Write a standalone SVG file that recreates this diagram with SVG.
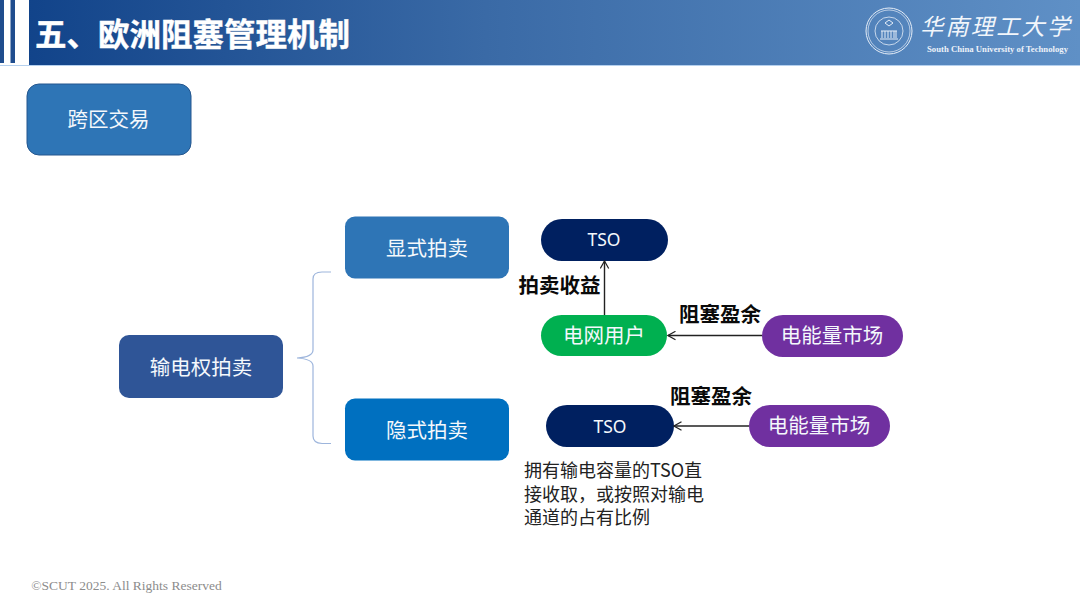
<svg xmlns="http://www.w3.org/2000/svg" width="1080" height="608" viewBox="0 0 1080 608">
<style>
text{font-family:"Noto Sans CJK SC","Noto Sans",sans-serif;text-anchor:middle}
.w{fill:#f4f8fc;font-size:20.500px}
.b{fill:#0a0a0a;font-size:20.500px;font-weight:700}
.t{fill:#222;font-size:18px;text-anchor:start}
.c{fill:none;stroke:#222;stroke-width:1.4}
.br{fill:none;stroke:#9db5dc;stroke-width:1.2}
.s{font-size:17.500px;fill:#f4f8fc;font-family:"Noto Sans",sans-serif}
</style>
<defs>
<linearGradient id="hd" x1="0" y1="0" x2="1" y2="0"><stop offset="0" stop-color="#0f4188"/><stop offset=".45" stop-color="#3a6aa6"/><stop offset="1" stop-color="#5f90c6"/></linearGradient>
<marker id="a" markerWidth="10" markerHeight="10" refX="8.500" refY="5" orient="auto" markerUnits="userSpaceOnUse"><path d="M1 .8 8.500 5 1 9.200" fill="none" stroke="#222" stroke-width="1.200"/></marker>
</defs>
<rect width="1080" height="608" fill="#fff"/>
<g id="header">
<rect width="1080" height="65" fill="url(#hd)"/>
<rect y="65" width="1080" height="1" fill="#b5d0ee"/>
<rect width="29" height="65" fill="#fff"/>
<rect width="4" height="63" fill="#1f4d8e"/>
<rect x="10.500" width="4.500" height="63" fill="#1f4d8e"/>
<text x="192.500" y="46" style="font-size:31.500px;font-weight:700;fill:#fff;stroke:#fff;stroke-width:.4">五、欧洲阻塞管理机制</text>
</g>
<g id="logo">
<circle cx="889" cy="31" r="23" fill="none" stroke="#e6eef8" stroke-width="1"/>
<circle cx="889" cy="31" r="21" fill="none" stroke="#e6eef8" stroke-width=".7"/>
<circle cx="889" cy="31" r="14" fill="none" stroke="#e6eef8" stroke-width=".8"/>
<path d="M880 39h18M882 38v-7M885 38v-7M888 38v-7M891 38v-7M894 38v-7M896 38v-7M881 31h16" stroke="#e6eef8" stroke-width="1" fill="none"/>
<path d="M885 23l4-3 4 3-4 3z" fill="none" stroke="#e6eef8" stroke-width="1"/>
<text x="920" y="35" style="font-size:23px;letter-spacing:2.400px;fill:#f2f6fb;font-style:italic;text-anchor:start">华南理工大学</text>
<text x="997.500" y="52" style="font-family:'Liberation Serif',serif;font-size:8.700px;font-weight:700;fill:#eef3fa">South China University of Technology</text>
</g>
<g id="kuaqu"><rect x="27" y="84" width="164" height="71" rx="12" fill="#2e75b6" stroke="#24568e" stroke-width="1"/><text class="w" x="108.500" y="126.500">跨区交易</text></g>
<g id="shudian"><rect x="119" y="335" width="164" height="63" rx="10" fill="#2f5597"/><text class="w" x="201" y="374.500">输电权拍卖</text></g>
<g id="xianshi"><rect x="345" y="216.500" width="164" height="62" rx="10" fill="#2e75b6"/><text class="w" x="427" y="255.500">显式拍卖</text></g>
<g id="yinshi"><rect x="345" y="398.500" width="164" height="62" rx="10" fill="#0070c0"/><text class="w" x="427" y="437.500">隐式拍卖</text></g>
<g id="tso1"><rect x="541" y="219" width="127" height="42" rx="21" fill="#002060"/><text class="s" x="604" y="246">TSO</text></g>
<g id="user"><rect x="541" y="315" width="126" height="41" rx="20.500" fill="#00b050"/><text class="w" x="604" y="343">电网用户</text></g>
<g id="market1"><rect x="762" y="315" width="141" height="42" rx="21" fill="#7030a0"/><text class="w" x="832" y="343">电能量市场</text></g>
<g id="tso2"><rect x="546" y="405" width="128" height="42" rx="21" fill="#002060"/><text class="s" x="610" y="433">TSO</text></g>
<g id="market2"><rect x="749" y="405" width="141" height="42" rx="21" fill="#7030a0"/><text class="w" x="819" y="433">电能量市场</text></g>
<g id="connectors">
<path class="br" d="M331 272H322Q313 272 313 279V350Q313 357 297 358Q313 359 313 366V436Q313 443 322 443.500H331"/>
<path class="c" d="M604.500 315V261" marker-end="url(#a)"/>
<path class="c" d="M762 335.500H668" marker-end="url(#a)"/>
<path class="c" d="M749 426H674" marker-end="url(#a)"/>
</g>
<g id="labels">
<text class="b" x="559.500" y="293">拍卖收益</text>
<text class="b" x="720" y="322">阻塞盈余</text>
<text class="b" x="711" y="404">阻塞盈余</text>
<text class="t" x="524" y="476.500">拥有输电容量的TSO直</text>
<text class="t" x="524" y="500.500">接收取，或按照对输电</text>
<text class="t" x="524" y="524">通道的占有比例</text>
<text x="126.500" y="590" style="font-family:'Liberation Serif',serif;font-size:13.500px;fill:#8c8c8c">©SCUT 2025. All Rights Reserved</text>
</g>
</svg>
